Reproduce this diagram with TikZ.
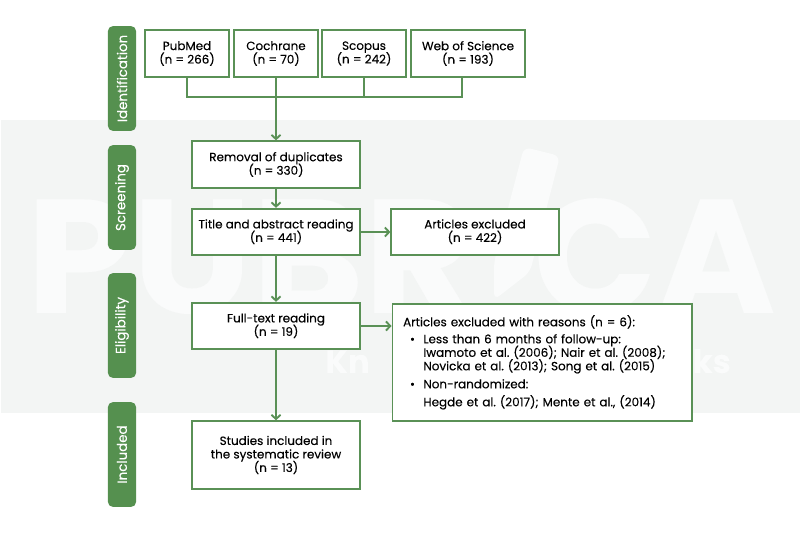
\documentclass[tikz,border=0pt]{standalone}
\usepackage{fontspec}
\setmainfont[FakeBold=0.15]{Poppins}
\usetikzlibrary{arrows.meta}
\definecolor{leaf}{HTML}{5A9156}
\definecolor{tabgreen}{HTML}{55904F}
\definecolor{band}{HTML}{F3F5F4}
\definecolor{ghost}{HTML}{FAFBFB}
\newcommand{\lift}{\rule[-2pt]{0pt}{0pt}}
\newcommand{\boxfont}{\fontsize{8.5}{9.6}\selectfont\setlength{\lineskiplimit}{-5pt}\relax}
\frenchspacing
\begin{document}
\begin{tikzpicture}%
	[x=0.025cm,
	y=-0.025cm,
	box/.style={draw=leaf, line width=1.35pt, fill=white, inner sep=0pt, align=center, font=\boxfont},
	smallbox/.style={box, minimum width=59.5pt, minimum height=33pt},
	midbox/.style={box, minimum width=119pt, minimum height=33pt},
	phase/.style={fill=tabgreen, rounded corners=3.5pt, text=white, rotate=90, inner sep=0pt, minimum width=74.5pt, minimum height=20pt, font=\fontsize{9.5}{10}\selectfont},
	link/.style={draw=leaf, line width=1.35pt},
	arrow/.style={link, -{Straight Barb[length=3pt,width=6.5pt,line width=1.35pt]}},
	bigmark/.style={text=ghost, inner sep=0pt, font=\bfseries\fontsize{115}{115}\selectfont},
	submark/.style={text=ghost, inner sep=0pt, font=\bfseries\fontsize{23}{23}\selectfont}]
%
\useasboundingbox (0,0) rectangle (800,533);
%
%% Background band and watermark
%%
\fill[band] (1,120) rectangle (800,413);
\node[bigmark, anchor=base west, xscale=1.05] (markleft) at (26,313) {PUBR};
\node[bigmark, anchor=base east] (markright) at (776,313) {CA};
\fill[ghost, rounded corners=5pt] (524,147) -- (560,156) -- (530,272) -- (494,300) -- (494,262) -- cycle;
\node[submark, anchor=base west] (kn) at (325,373) {Kn};
\node[submark, anchor=base east] (ks) at (731,373) {ks};
%%
%% Phase labels
%%
\node[phase] (identification) at (122,78.5) {Identification};
\node[phase] (screening) at (122,197.5) {Screening};
\node[phase] (eligibility) at (122,325.5) {Eligibility};
\node[phase] (included) at (122,454.5) {Included};
%%
%% Sources
%%
\node[smallbox] (pubmed) at (187,53.5) {PubMed\\(n = 266)};
\node[smallbox] (cochrane) at (276,53.5) {Cochrane\\(n = 70)};
\node[smallbox] (scopus) at (364,53.5) {Scopus\\(n = 242)};
\node[box, minimum width=81pt, minimum height=33pt] (wos) at (468,53.5) {Web of Science\\(n = 193)};
%%
%% Main column
%%
\node[midbox] (removal) at (276,164.5) {Removal of duplicates\\(n = 330)};
\node[midbox] (title) at (276,232) {Title and abstract reading\\(n = 441)\lift};
\node[midbox] (fulltext) at (276,326) {Full-text reading\\(n = 19)\lift};
\node[midbox, minimum height=48pt] (studies) at (276,455) {Studies included in\\the systematic review\\(n = 13)};
%%
%% Exclusions
%%
\node[midbox] (excluded) at (475,232) {Articles excluded\\(n = 422)\lift};
\node[box, anchor=north west, minimum height=83pt, text width=213pt, align=left] (reasons) at (391.5,303) {\hspace*{7.6pt}Articles excluded with reasons (n = 6):\\[2.5pt]
\hspace*{12.5pt}\makebox[9.5pt][l]{•}Less than 6 months of follow-up:\\
\hspace*{22pt}Iwamoto et al. (2006); Nair et al. (2008);\\
\hspace*{22pt}Novicka et al. (2013); Song et al. (2015)\\[3.2pt]
\hspace*{12.5pt}\makebox[9.5pt][l]{•}Non-randomized:\\[3.2pt]
\hspace*{22pt}Hegde et al. (2017); Mente et al., (2014)};
%%
%% Connectors
%%
\coordinate (joinleft) at (187,97);
\coordinate (joinright) at (462,97);
\draw[link] (pubmed.south) -- (joinleft) -- (joinright) -- (joinright |- wos.south);
\draw[link] (scopus.south) -- (scopus.south |- joinleft);
\draw[arrow] (cochrane.south) -- (removal.north);
\draw[arrow] (removal.south) -- (title.north);
\draw[arrow] (title.south) -- (fulltext.north);
\draw[arrow] (fulltext.south) -- (studies.north);
\draw[arrow] (title.east) -- (excluded.west);
\draw[arrow] (fulltext.east) -- (fulltext.east -| reasons.west);
%%
\end{tikzpicture}
\end{document}
